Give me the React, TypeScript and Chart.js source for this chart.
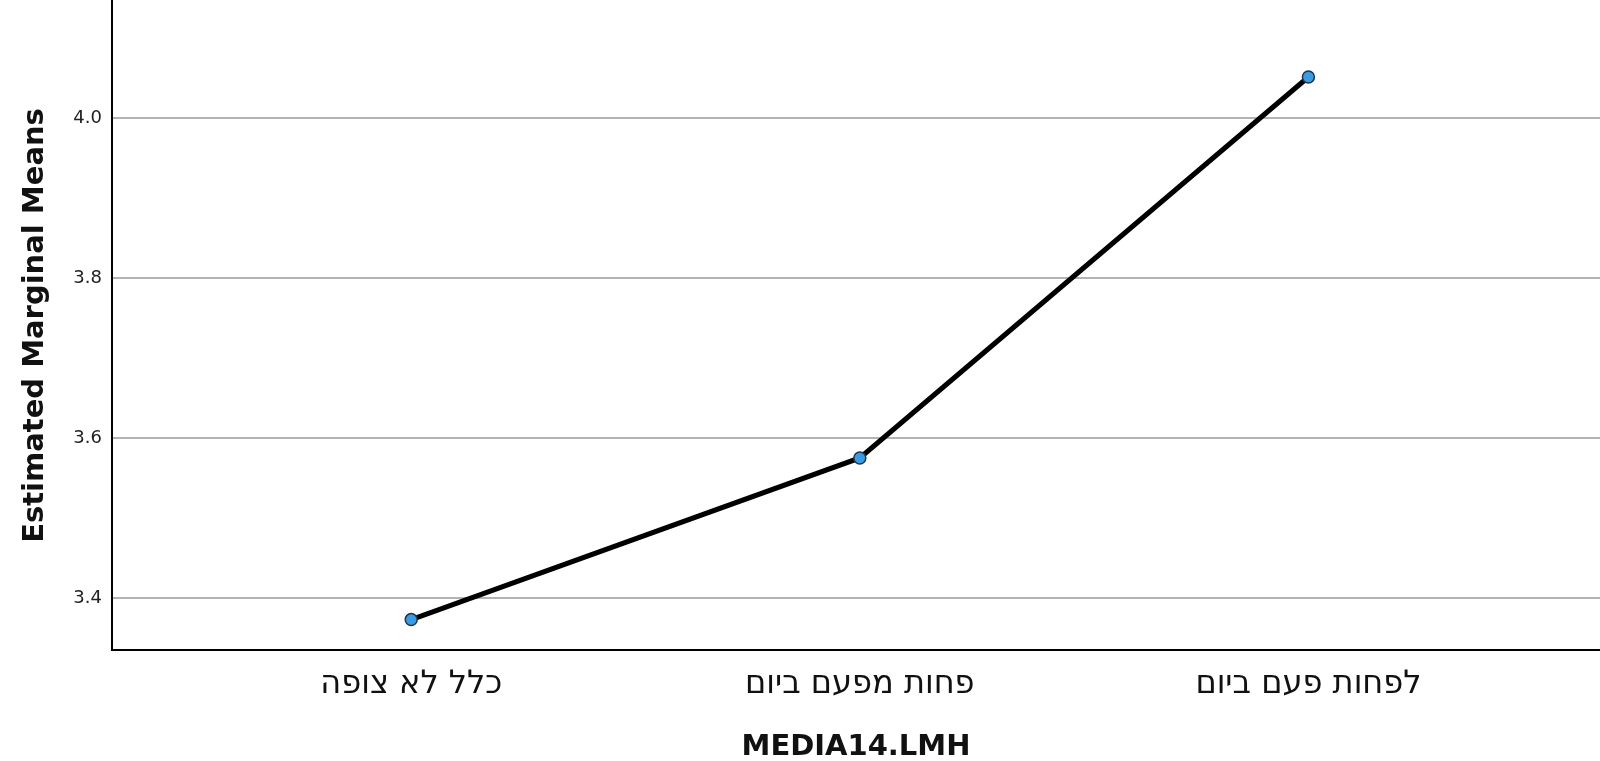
import React, { useEffect, useRef } from "react";
import { Chart, registerables } from "chart.js";

Chart.register(...registerables);

const categories = ["כלל לא צופה", "פחות מפעם ביום", "לפחות פעם ביום"];
const meanValues = [3.373, 3.575, 4.051];
const yTickValues = [3.4, 3.6, 3.8, 4.0];
const xTitle = "MEDIA14.LMH";
const yTitle = "Estimated Marginal Means";

export default function App() {
  const ref = useRef<HTMLCanvasElement | null>(null);
  useEffect(() => {
    if (!ref.current) return;
    const chart = new Chart(ref.current, {
      type: "line",
      data: {
        datasets: [
          {
            data: meanValues.map((v, i) => ({ x: i, y: v })),
            borderColor: "#000000",
            borderWidth: 5,
            pointRadius: 6,
            pointBackgroundColor: "#3b9be2",
            pointBorderColor: "#1f3550",
            pointBorderWidth: 1.5,
            tension: 0,
            clip: false as any,
          },
        ],
      },
      options: {
        responsive: false,
        animation: false,
        layout: { autoPadding: false, padding: { top: 1, right: 0, left: 0, bottom: 0 } },
        plugins: { legend: { display: false }, tooltip: { enabled: false } },
        scales: {
          x: {
            type: "linear",
            min: -0.667,
            max: 2.65,
            afterBuildTicks: (s: any) => {
              s.ticks = categories.map((_, i) => ({ value: i }));
            },
            afterFit: (s: any) => {
              s.height = 111;
              s.paddingLeft = 0;
              s.paddingRight = 0;
            },
            grid: { display: false, drawTicks: false },
            border: { display: true, color: "#000000", width: 2 },
            ticks: {
              callback: (v: any) => categories[v as number] ?? "",
              color: "#111111",
              font: { family: "DejaVu Sans", size: 32 },
              padding: 15,
              maxRotation: 0,
              autoSkip: false,
            },
            title: {
              display: true,
              text: xTitle,
              color: "#111111",
              font: { family: "DejaVu Sans", size: 29, weight: "bold", lineHeight: 0.9 },
              padding: { top: 0, bottom: 0 },
            },
          },
          y: {
            type: "linear",
            min: 3.335,
            max: 4.146,
            afterBuildTicks: (s: any) => {
              s.ticks = yTickValues.map((v) => ({ value: v }));
            },
            afterFit: (s: any) => {
              s.width = 112;
              s.paddingTop = 0;
              s.paddingBottom = 0;
            },
            grid: { color: "#b3b3b3", lineWidth: 2, drawTicks: false },
            border: { display: true, color: "#000000", width: 2 },
            ticks: {
              callback: (v: any) => Number(v).toFixed(1),
              color: "#222222",
              font: { family: "DejaVu Sans", size: 18 },
              padding: 10,
            },
            title: {
              display: true,
              text: yTitle,
              color: "#111111",
              font: { family: "DejaVu Sans", size: 29, weight: "bold" },
              padding: { top: 18, bottom: 0 },
            },
          },
        },
      },
    });
    return () => chart.destroy();
  }, []);
  return (
    <div style={{ position: "absolute", left: 0, top: 0, width: 1600, height: 761, background: "#fff" }}>
      <canvas ref={ref} width={1600} height={761} />
    </div>
  );
}
